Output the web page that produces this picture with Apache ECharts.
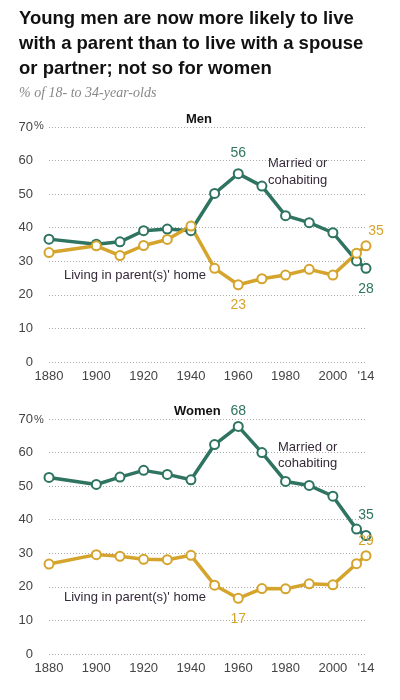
<!DOCTYPE html>
<html>
<head>
<meta charset="utf-8">
<script src="https://cdn.jsdelivr.net/npm/echarts@6/dist/echarts.min.js"></script>
<style>
  html, body { margin: 0; padding: 0; background: #fff; }
  #chart { width: 400px; height: 700px; }
</style>
</head>
<body>
<div id="chart"></div>
<script>
// 数据：18-34岁人群的居住状况（%）
var years = [1880, 1900, 1910, 1920, 1930, 1940, 1950, 1960, 1970, 1980, 1990, 2000, 2010, 2014];
var xTicks = [1880, 1900, 1920, 1940, 1960, 1980, 2000, 2014];

var menMarried  = [36.6, 35.1, 35.8, 39.1, 39.6, 39.1, 50.2, 56.1, 52.4, 43.6, 41.5, 38.5, 30.1, 27.9];
var menParents  = [32.6, 34.6, 31.7, 34.7, 36.5, 40.5, 27.9, 23.0, 24.8, 25.9, 27.6, 25.9, 32.4, 34.6];
var womenMarried = [52.6, 50.5, 52.7, 54.7, 53.5, 51.9, 62.4, 67.8, 60.0, 51.4, 50.2, 47.0, 37.2, 35.3];
var womenParents = [26.8, 29.6, 29.1, 28.2, 28.1, 29.4, 20.5, 16.6, 19.5, 19.4, 20.9, 20.6, 26.9, 29.3];

var GREEN = '#2e7461';
var GOLD = '#d5a42c';
var FONT = 'Liberation Sans';

// 把数组组合成 [年份, 值]，并给指定点加数字标签
function buildData(values, color, labels) {
    return years.map(function (y, i) {
        var item = {value: [y, values[i]]};
        if (labels[i]) {
            item.label = Object.assign({
                show: true,
                color: color,
                fontSize: 14,
                fontFamily: FONT,
                formatter: function (p) { return Math.round(p.value[1]); }
            }, labels[i]);
        }
        return item;
    });
}

function lineSeries(name, values, color, idx, labels) {
    return {
        name: name,
        type: 'line',
        xAxisIndex: idx,
        yAxisIndex: idx,
        symbol: 'circle',
        symbolSize: 9,
        lineStyle: {color: color, width: 3.5},
        itemStyle: {color: '#fff', borderColor: color, borderWidth: 2},
        emphasis: {disabled: true},
        data: buildData(values, color, labels)
    };
}

function xAxisOpt(idx) {
    return {
        type: 'value', gridIndex: idx, min: 1880, max: 2014,
        axisLine: {show: false}, axisTick: {show: false}, splitLine: {show: false},
        axisLabel: {
            customValues: xTicks, margin: 8,
            color: '#444', fontSize: 13, fontFamily: FONT,
            formatter: function (v) { return v === 2014 ? "'14" : String(v); }
        }
    };
}

function yAxisOpt(idx) {
    return {
        type: 'value', gridIndex: idx, min: 0, max: 70, interval: 10,
        axisLine: {show: false}, axisTick: {show: false},
        axisLabel: {margin: 16, color: '#444', fontSize: 13, fontFamily: FONT},
        splitLine: {lineStyle: {type: [1, 2], color: '#aaa', width: 1}}
    };
}

var myChart = echarts.init(document.getElementById('chart'));

var menM = {}; menM[7] = {position: 'top', distance: 8}; menM[13] = {position: 'bottom', distance: 8};
var menP = {}; menP[7] = {position: 'bottom', distance: 8}; menP[13] = {position: 'top', distance: 2, offset: [10, 0]};
var womM = {}; womM[7] = {position: 'top', distance: 3}; womM[13] = {position: 'top', distance: 8};
var womP = {}; womP[7] = {position: 'bottom', distance: 8}; womP[13] = {position: 'top', distance: 2};

var annot = {fill: '#352a3a', fontSize: 13, fontFamily: FONT};

myChart.setOption({
    animation: false,
    title: [
        {
            text: 'Young men are now more likely to live\nwith a parent than to live with a spouse\nor partner; not so for women',
            left: 19, top: 6, padding: 0,
            textStyle: {fontSize: 18.5, fontWeight: 'bold', color: '#111', fontFamily: FONT, lineHeight: 25}
        },
        {
            text: '% of 18- to 34-year-olds',
            left: 19, top: 86, padding: 0,
            textStyle: {fontSize: 14, fontStyle: 'italic', fontWeight: 'normal', color: '#888', fontFamily: 'Liberation Serif'}
        },
        {
            text: 'Men', left: 186, top: 113, padding: 0,
            textStyle: {fontSize: 13, fontWeight: 'bold', color: '#111', fontFamily: FONT}
        },
        {
            text: 'Women', left: 174, top: 405, padding: 0,
            textStyle: {fontSize: 13, fontWeight: 'bold', color: '#111', fontFamily: FONT}
        }
    ],
    grid: [
        {left: 49, right: 34, top: 127, height: 235},
        {left: 49, right: 34, top: 419, height: 235}
    ],
    xAxis: [xAxisOpt(0), xAxisOpt(1)],
    yAxis: [yAxisOpt(0), yAxisOpt(1)],
    graphic: [
        {type: 'text', left: 34, top: 120, style: {text: '%', fill: '#444', fontSize: 11, fontFamily: FONT}},
        {type: 'text', left: 34, top: 414, style: {text: '%', fill: '#444', fontSize: 11, fontFamily: FONT}},
        {type: 'text', left: 268, top: 155, style: Object.assign({text: 'Married or\ncohabiting', lineHeight: 17}, annot)},
        {type: 'text', left: 64, top: 269, style: Object.assign({text: "Living in parent(s)' home"}, annot)},
        {type: 'text', left: 278, top: 439, style: Object.assign({text: 'Married or\ncohabiting', lineHeight: 16}, annot)},
        {type: 'text', left: 64, top: 591, style: Object.assign({text: "Living in parent(s)' home"}, annot)}
    ],
    series: [
        lineSeries('Married or cohabiting', menMarried, GREEN, 0, menM),
        lineSeries("Living in parent(s)' home", menParents, GOLD, 0, menP),
        lineSeries('Married or cohabiting', womenMarried, GREEN, 1, womM),
        lineSeries("Living in parent(s)' home", womenParents, GOLD, 1, womP)
    ]
});
</script>
</body>
</html>
